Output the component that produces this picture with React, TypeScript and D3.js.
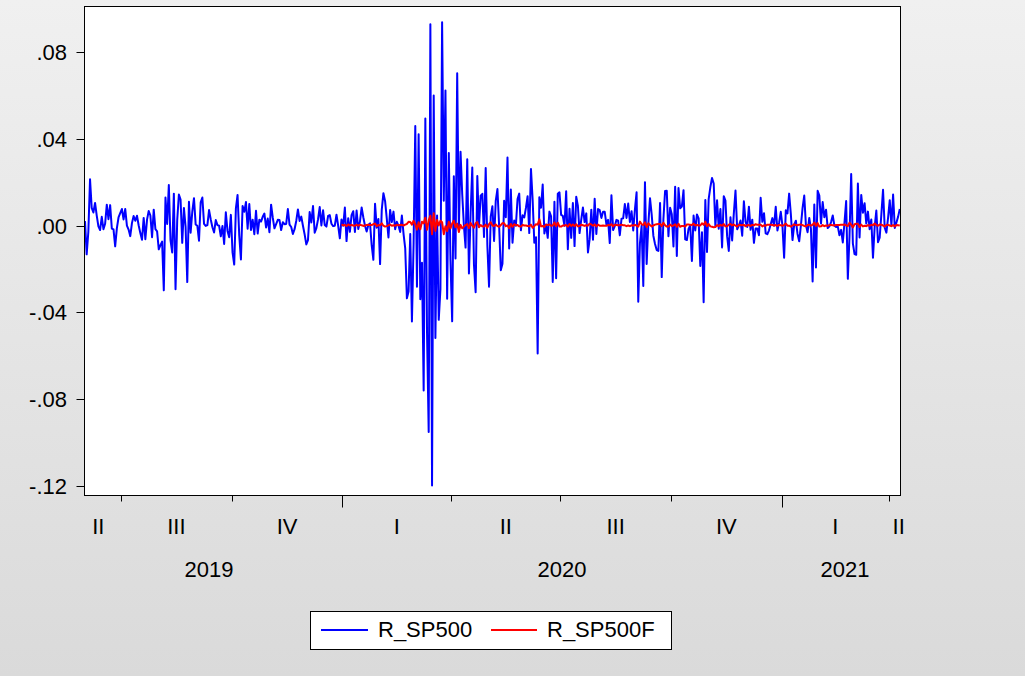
import React from 'react';
import * as d3 from 'd3';

// Sample: daily (5-day week) observations
const START_DATE = '2019-05-30';
const END_DATE = '2021-04-09';
const FORECAST_START = '2019-12-31';

// R_SP500 daily returns, in units of 1e-4 (one value per weekday, month by month)
const R_SP500_2019 = [
  21, -132,
  -28, 214, 82, 61, 105, 47, -3, -20, 41, -16, 9, 97, 30, 95, -13, -17, -95, -12, 38, 58,
  77, 29, 77, 0, -18, -48, 12, 45, 23, 46, 2, -34, -65, 36, -62, 28, 68, 47, -53, 74, -16, -26, -109,
  -90, -73, -298, 130, 8, 188, -66, -123, 148, -293, 25, 144, 121, -79, 82, -5, -260, 110, -32, 65, 127, 6,
  0, -69, 108, 130, 9, -1, 3, 72, 29, -7, -31, 26, 3, 0, -49, -1, -84, 62, -24, -53, 50,
  -123, -179, 80, 142, -45, -156, 91, 64, 109, -14, 100, -20, 28, -39, 69, -36, 28, 19, 41, 56, -8, 33, -30,
  97, 37, -12, 7, 27, 26, -20, 16, 7, 8, 77, 5, -6, -38, -16, 22, 75, 22, 42, 0, -40,
  -86, -66, 63, 15, 91, -32, -11, 29, 86, 1, 71, 3, -4, 45, 49, 9, -2, 0, 51, 0, -58, 29,
];
const R_SP500_2020 = [
  0, 84, -71, 35, -28, 49, 67, -29, 70, -15, 19, 84, 39, 0, -27, 3, 11, -90, -157, 101, -9, 31, -177,
  73, 150, 113, 33, -54, 73, 17, 65, -16, 18, 0, -29, 47, -38, -105, -335, -303, -38, -442, -82,
  460, -281, 422, -339, -171, -760, 494, -489, -951, 929, -1198, 600, -518, 47, -434, -293, 938, 115, 624, -337, 335, -160,
  -441, 228, -151, 703, -16, 341, 145, 0, -101, 306, -220, 58, 268, -179, -307, 229, -5, 139, 147, -52, 266, -92,
  -281, 42, 90, -70, 115, 169, 1, -205, -175, 115, 39, 315, -105, 167, -78, 24, 0, 123, 148, -21, 48,
  38, 82, 136, -34, 262, 120, -78, -53, -589, 131, 83, 190, -36, 6, -56, 65, 43, -259, 110, -242, 147, 154,
  50, 45, 0, 159, -108, 78, -56, 105, -94, 134, 91, -34, 28, 84, 17, 57, -123, -62, 74, -65, 124, -38, 77,
  72, 36, 64, 64, 6, 27, -80, 140, -20, -2, 27, 23, -44, 32, 34, 100, 36, 102, 17, 67, -22,
  75, 154, -351, -81, 0, -278, 201, -176, 5, 127, 52, -46, -84, -112, -116, 105, -237, 30, 160, 161, -48, 83,
  53, -96, 180, -140, 174, 80, 88, 164, -63, -66, -15, 1, -163, 47, -22, 52, 34, -186, -30, -353, 119, -121,
  123, 178, 220, 195, -3, 117, -14, 77, -100, 136, 116, -48, -116, 39, -68, 56, 162, -16, 0, 24, -46,
  113, 18, -6, 88, -19, 28, -79, -13, -13, -44, 129, 18, 58, -35, -39, -21, 7, 35, 0, 87, -22, 13, 64,
];
const R_SP500_2021 = [
  0, -148, 71, 57, 148, 55, -66, 4, 23, -38, -72, 0, 81, 139, 3, -30, 36, -15, -257, 98, -193,
  161, 139, 10, 109, 39, 74, -11, -3, 17, 47, 0, -6, -3, -44, -19, -77, 13, 114, -245, -48,
  238, -81, -131, -134, 195, -54, 142, 60, 104, 10, 65, -16, 29, -148, -6, 70, -76, -55, 52, 166, -9, -32, 36,
  118, 0, 144, -10, 15, 42, 77,
];

// R_SP500F forecast, in units of 1e-4, from 2019-12-31
const R_SP500F_VALUES = [
  6,
  2, 3, -1, 6, 1, 4, 1, 0, 4, 0, 4, 2, -1, 1, 3, 4, 3, 3, 7, 10, -2, 3, 2,
  11, 0, -4, -2, 2, 5, 0, 2, 0, 4, 2, 3, 4, 1, 5, 8, 18, 17, 5, 23,
  7, -18, 16, -16, 18, 11, 37, -19, 25, 46, -39, 57, -24, 26, 1, 23, 16, -39, -2, -25, 18, -12,
  10, 23, -7, 10, -29, 4, -12, -4, 3, 8, -11, 13, 0, -9, 11, 17, -7, 3, -3, -4, 5, -9,
  7, 16, 1, -1, 6, -2, -5, 3, 12, 11, -2, 1, -11, 8, -5, 7, 2, 3, -3, -4, 4,
  1, 1, -1, -3, 5, -9, -2, 7, 5, 30, -3, -1, -6, 5, 3, 6, 0, 1, 15, -2, 14, -4,
  -4, 1, 1, 3, -4, 8, -1, 6, -2, 7, -3, -1, 5, 2, -1, 2, 0, 9, 6, 0, 6, -3, 5,
  0, 0, 1, 0, 0, 3, 2, 7, -3, 4, 3, 2, 2, 5, 2, 2, -2, 1, -2, 2, 0,
  4, 0, -4, 19, 7, 3, 16, -6, 11, 3, -3, 1, 5, 7, 8, 8, -2, 14, 2, -4, -4, 5,
  -1, 1, 7, -5, 9, -5, -1, -1, -4, 6, 6, 4, 3, 10, 1, 4, 1, 1, 11, 4, 19, -2,
  8, -3, -5, -7, -6, 3, -2, 4, 0, 8, -3, -2, 5, 8, 1, 6, 0, -4, 4, 3, 2,
  5, -2, 2, 3, -1, 4, 2, 7, 4, 4, 5, -3, 2, 0, 5, 5, 4, 3, 1, 3, -1, 4, 2,
  0, 3, 10, 0, 0, -4, 1, 6, 3, 2, 5, 6, 3, -1, -3, 3, 4, 1, 4, 15, -1,
  12, -4, -3, 3, -2, 1, 0, 3, 3, 2, 1, 3, 3, 3, 5, 4, 6, 2, -2, 14,
  5, -8, 7, 9, 9, -6, 5, -3, 0, -2, 3, 0, 4, 2, 10, 3, 0, 6, 5, 1, -4, 3, 4,
  1, -2, 3, -3, 3, 2, 1,
];

const Y_TICKS = [0.08, 0.04, 0, -0.04, -0.08, -0.12];
const Y_TICK_LABELS = ['.08', '.04', '.00', '-.04', '-.08', '-.12'];
const QUARTER_LABELS = ['I', 'II', 'III', 'IV'];
const SERIES_NAMES = ['R_SP500', 'R_SP500F'];
const SERIES_COLORS = ['#0000ff', '#ff0000'];

const FONT = "Arial, 'Liberation Sans', sans-serif";

function weekdays(start: string, end: string): Date[] {
  const out: Date[] = [];
  let d = new Date(start + 'T00:00:00Z');
  const e = new Date(end + 'T00:00:00Z');
  while (d <= e) {
    const w = d.getUTCDay();
    if (w !== 0 && w !== 6) out.push(new Date(d.getTime()));
    d = new Date(d.getTime() + 86400000);
  }
  return out;
}
const iso = (d: Date) => d.toISOString().slice(0, 10);

export default function App() {
  const W = 1025;
  const H = 676;
  const frame = { left: 84.5, right: 900.5, top: 6.5, bottom: 495.5 };

  const dates = weekdays(START_DATE, END_DATE);
  const blue = [...R_SP500_2019, ...R_SP500_2020, ...R_SP500_2021].map((v) => v / 1e4);
  const redStart = dates.findIndex((d) => iso(d) === FORECAST_START);
  const red = R_SP500F_VALUES.map((v, k) => ({ i: redStart + k, v: v / 1e4 }));

  const x = d3.scaleLinear().domain([0, dates.length - 1]).range([85, 899.8]);
  const y = d3.scaleLinear().domain([-0.1245, 0.101]).range([495.7, 6.7]);

  const blueLine = d3
    .line<number>()
    .x((_, i) => x(i))
    .y((v) => y(v));
  const redLine = d3
    .line<{ i: number; v: number }>()
    .x((d) => x(d.i))
    .y((d) => y(d.v));

  // quarter boundaries
  const bounds: { i: number; year: boolean }[] = [];
  dates.forEach((d, i) => {
    if (i === 0) return;
    const m = d.getUTCMonth();
    const pm = dates[i - 1].getUTCMonth();
    if (m !== pm && m % 3 === 0) bounds.push({ i, year: m === 0 });
  });
  const labelLeft = frame.left - 9;
  const labelRight = frame.right + 8;
  const bx = (i: number) => x(i - 0.5);

  // quarter segments
  const qStarts = [0, ...bounds.map((b) => b.i)];
  const quarterSegs = qStarts.map((s, k) => {
    const d = dates[s];
    const q = Math.floor(d.getUTCMonth() / 3);
    const left = k === 0 ? labelLeft : bx(s);
    const right = k === qStarts.length - 1 ? labelRight : bx(qStarts[k + 1]);
    return { label: QUARTER_LABELS[q], cx: (left + right) / 2 };
  });
  const yStarts = [0, ...bounds.filter((b) => b.year).map((b) => b.i)];
  const yearSegs = yStarts.map((s, k) => {
    const left = k === 0 ? labelLeft : bx(s);
    const right = k === yStarts.length - 1 ? labelRight : bx(yStarts[k + 1]);
    return { label: String(dates[s].getUTCFullYear()), cx: (left + right) / 2 };
  });

  const legend = { x: 310.5, y: 611.5, w: 361, h: 38 };

  return (
    <svg
      width={W}
      height={H}
      style={{ position: 'absolute', left: 0, top: 0, display: 'block' }}
      fontFamily={FONT}
    >
      <defs>
        <linearGradient id="bg" x1="0" y1="0" x2="0" y2="1">
          <stop offset="0" stopColor="#f0f0f0" />
          <stop offset="1" stopColor="#dadada" />
        </linearGradient>
        <clipPath id="plotclip">
          <rect x={frame.left} y={frame.top} width={frame.right - frame.left} height={frame.bottom - frame.top} />
        </clipPath>
      </defs>
      <rect x={0} y={0} width={W} height={H} fill="url(#bg)" />
      <rect
        x={frame.left}
        y={frame.top}
        width={frame.right - frame.left}
        height={frame.bottom - frame.top}
        fill="#ffffff"
      />
      <g clipPath="url(#plotclip)">
        <path d={blueLine(blue) || ''} fill="none" stroke={SERIES_COLORS[0]} strokeWidth={2} strokeLinejoin="round" />
        <path d={redLine(red) || ''} fill="none" stroke={SERIES_COLORS[1]} strokeWidth={2} strokeLinejoin="round" />
      </g>
      <rect
        x={frame.left}
        y={frame.top}
        width={frame.right - frame.left}
        height={frame.bottom - frame.top}
        fill="none"
        stroke="#000"
        strokeWidth={1}
      />
      {/* y axis */}
      {Y_TICKS.map((t, k) => (
        <g key={'yt' + k}>
          <line x1={frame.left - 8} x2={frame.left} y1={Math.round(y(t)) + 0.5} y2={Math.round(y(t)) + 0.5} stroke="#000" />
          <text x={67} y={y(t) + 8} textAnchor="end" fontSize={22} fill="#000">
            {Y_TICK_LABELS[k]}
          </text>
        </g>
      ))}
      {/* x axis ticks */}
      {bounds.map((b, k) => (
        <line
          key={'xt' + k}
          x1={Math.round(bx(b.i)) + 0.5}
          x2={Math.round(bx(b.i)) + 0.5}
          y1={frame.bottom}
          y2={frame.bottom + (b.year ? 12 : 6)}
          stroke="#000"
        />
      ))}
      {quarterSegs.map((s, k) => (
        <text key={'ql' + k} x={s.cx} y={534} textAnchor="middle" fontSize={22} fill="#000">
          {s.label}
        </text>
      ))}
      {yearSegs.map((s, k) => (
        <text key={'yl' + k} x={s.cx} y={577} textAnchor="middle" fontSize={22} fill="#000">
          {s.label}
        </text>
      ))}
      {/* legend */}
      <rect x={legend.x} y={legend.y} width={legend.w} height={legend.h} fill="#fff" stroke="#000" />
      <line x1={321} x2={368} y1={630} y2={630} stroke={SERIES_COLORS[0]} strokeWidth={2} />
      <text x={378} y={637} fontSize={22} fill="#000">
        {SERIES_NAMES[0]}
      </text>
      <line x1={491} x2={537} y1={630} y2={630} stroke={SERIES_COLORS[1]} strokeWidth={2} />
      <text x={547} y={637} fontSize={22} fill="#000">
        {SERIES_NAMES[1]}
      </text>
    </svg>
  );
}
